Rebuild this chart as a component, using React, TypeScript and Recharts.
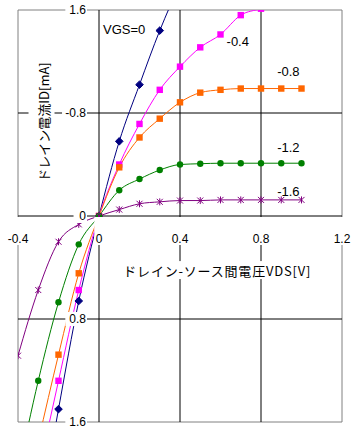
import React from "react";
import { LineChart, Line, XAxis, YAxis, ReferenceLine, ReferenceArea, ReferenceDot } from "recharts";

// ---- data ----
const vds = [-0.4, -0.3, -0.2, -0.1, 0, 0.1, 0.2, 0.3, 0.4, 0.5, 0.6, 0.7, 0.8, 0.9, 1.0];
const idVgs0 = [null, -2.4, -1.5, -0.66, 0, 0.58, 1.02, 1.44, 1.8, 2.1, null, null, null, null, null];
const idVgsM04 = [null, -2.0, -1.28, -0.575, 0, 0.4, 0.715, 0.98, 1.16, 1.31, 1.41, 1.56, 1.61, 1.66, 1.68];
const idVgsM08 = [null, -1.75, -1.077, -0.445, 0, 0.378, 0.61, 0.756, 0.883, 0.958, 0.98, 0.99, 0.99, 0.99, 0.99];
const idVgsM12 = [-2.0, -1.28, -0.67, -0.22, 0, 0.2, 0.287, 0.357, 0.4, 0.406, 0.41, 0.41, 0.41, 0.41, 0.41];
const idVgsM16 = [-1.085, -0.575, -0.2, -0.065, 0, 0.05, 0.095, 0.11, 0.12, 0.12, 0.125, 0.125, 0.125, 0.125, 0.125];

const xGrid = [0.4, 0.8];
const yGrid = [0.8, -0.8];
const xTicks = [-0.4, 0, 0.4, 0.8, 1.2];
const xTickLabels = ["-0.4", "0", "0.4", "0.8", "1.2"];
const yTicks = [1.6, 0.8, 0, -0.8, -1.6];
const yTickLabels = ["1.6", "-0.8", "0", "0.8", "1.6"];

const seriesNames = ["VGS=0", "-0.4", "-0.8", "-1.2", "-1.6"];
const seriesColors = ["#000080", "#FF00FF", "#FF6600", "#008000", "#800080"];
const annotX = [0.02, 0.63, 0.88, 0.88, 0.88];
const annotY = [1.45, 1.355, 1.12, 0.53, 0.19];

const xTitle = "ドレイン-ソース間電圧VDS[V]";
const yTitle = "ドレイン電流ID[mA]";

const data = vds.map((x, i) => ({
  x,
  s0: idVgs0[i],
  s1: idVgsM04[i],
  s2: idVgsM08[i],
  s3: idVgsM12[i],
  s4: idVgsM16[i],
}));

const NUM_FONT = "'Liberation Sans Narrow', 'Liberation Sans', Arial, sans-serif";
const ANN_FONT = "'Liberation Sans', Arial, sans-serif";
const JP_FONT = "'Noto Sans CJK JP', sans-serif";

const CW: Record<string, number> = { ".": 0.278, "-": 0.333, "=": 0.584 };
function numWidth(t: string, size: number, narrow: number) {
  let w = 0;
  for (const c of t) w += (CW[c] ?? 0.556) * size * narrow;
  return w;
}

// ---- marker shapes ----
const mk = (kind: string, color: string) => (props: any) => {
  const { cx, cy, index, value } = props;
  const key = `${kind}-${index}`;
  if (cx == null || cy == null || value == null) return <g key={key} />;
  if (kind === "diamond") {
    const s = 3.8;
    return <polygon key={key} points={`${cx},${cy - s} ${cx + s},${cy} ${cx},${cy + s} ${cx - s},${cy}`} fill={color} stroke={color} />;
  }
  if (kind === "square") {
    const s = 3.2;
    return <rect key={key} x={cx - s} y={cy - s} width={2 * s} height={2 * s} fill={color} stroke="none" />;
  }
  if (kind === "circle") {
    return <circle key={key} cx={cx} cy={cy} r={3.2} fill={color} stroke="none" />;
  }
  const s = 3;
  return (
    <g key={key} stroke={color} strokeWidth={1}>
      <line x1={cx - s} y1={cy - s} x2={cx + s} y2={cy + s} />
      <line x1={cx - s} y1={cy + s} x2={cx + s} y2={cy - s} />
      <line x1={cx} y1={cy - s - 0.5} x2={cx} y2={cy + s + 0.5} />
    </g>
  );
};

const markerKinds = ["diamond", "square", "square", "circle", "star"];
const keys = ["s0", "s1", "s2", "s3", "s4"];

// ---- label shapes ----
const yTickShape = (label: string) => (p: any) => {
  const { cx, cy } = p;
  const right = cx - 13;
  const w = numWidth(label, 12, 0.82);
  return (
    <g>
      <rect x={right - w - 7} y={cy - 7} width={w + 8} height={14} fill="#fff" />
      <text x={right} y={cy} textAnchor="end" dominantBaseline="central" fontFamily={NUM_FONT} fontSize={12} fill="#000">
        {label}
      </text>
    </g>
  );
};

const xTickShape = (label: string) => (p: any) => {
  const { cx, cy } = p;
  const w = numWidth(label, 12, 0.82);
  return (
    <g>
      <rect x={cx - w / 2 - 2} y={cy + 1} width={w + 4} height={28} fill="#fff" />
      <text x={cx} y={cy + 23} textAnchor="middle" dominantBaseline="central" fontFamily={NUM_FONT} fontSize={12} fill="#000">
        {label}
      </text>
    </g>
  );
};

const xTitleShape = (p: any) => {
  const { cx, cy } = p;
  return (
    <g>
      <rect x={cx - 2} y={cy - 9} width={198} height={18} fill="#fff" />
      <text x={cx} y={cy} textAnchor="start" dominantBaseline="central" fontFamily={JP_FONT} fontSize={13} letterSpacing={0.8} fill="#000">
        {xTitle}
      </text>
    </g>
  );
};

const yTitleShape = (p: any) => {
  const { cx, cy } = p;
  return (
    <g transform={`rotate(-90 ${cx} ${cy})`}>
      <rect x={cx - 60} y={cy - 15} width={120} height={26} fill="#fff" />
      <text x={cx} y={cy} textAnchor="middle" dominantBaseline="central" fontFamily={JP_FONT} fontSize={13} fill="#000">
        {yTitle}
      </text>
    </g>
  );
};

const annotShape = (label: string) => (p: any) => {
  const { cx, cy } = p;
  return (
    <text x={cx} y={cy} textAnchor="start" dominantBaseline="central" fontFamily={ANN_FONT} fontSize={13} fill="#000">
      {label}
    </text>
  );
};

export default function App() {
  return (
    <div style={{ position: "absolute", left: 0, top: 0, width: 353, height: 433, background: "#fff" }}>
      <LineChart width={353} height={433} data={data} margin={{ top: 10, right: 11, bottom: 11, left: 18 }}>
        <XAxis dataKey="x" type="number" domain={[-0.4, 1.2]} hide allowDataOverflow />
        <YAxis type="number" domain={[-1.6, 1.6]} hide allowDataOverflow />
        <ReferenceArea x1={-0.4} x2={1.2} y1={-1.6} y2={1.6} fill="none" fillOpacity={0} stroke="#808080" strokeWidth={1} ifOverflow="visible" />
        {xGrid.map((v) => (
          <ReferenceLine key={`xg${v}`} x={v} stroke="#000" strokeWidth={1} />
        ))}
        {yGrid.map((v) => (
          <ReferenceLine key={`yg${v}`} y={v} stroke="#000" strokeWidth={1} />
        ))}
        <ReferenceLine x={0} stroke="#000" strokeWidth={1} />
        <ReferenceLine y={0} stroke="#000" strokeWidth={1} />
        {keys.map((k, i) => (
          <Line
            key={k}
            dataKey={k}
            type="monotone"
            stroke={seriesColors[i]}
            strokeWidth={1}
            dot={mk(markerKinds[i], seriesColors[i])}
            activeDot={false}
            isAnimationActive={false}
          />
        ))}
        {yTicks.map((t, i) => (
          <ReferenceDot key={`yt${i}`} x={0} y={t} r={0} shape={yTickShape(yTickLabels[i])} ifOverflow="visible" />
        ))}
        {xTicks.map((t, i) => (
          <ReferenceDot key={`xt${i}`} x={t} y={0} r={0} shape={xTickShape(xTickLabels[i])} ifOverflow="visible" />
        ))}
        <ReferenceDot x={0.12} y={-0.42} r={0} shape={xTitleShape} ifOverflow="visible" />
        <ReferenceDot x={-0.274} y={0.73} r={0} shape={yTitleShape} ifOverflow="visible" />
        {seriesNames.map((n, i) => (
          <ReferenceDot key={`an${i}`} x={annotX[i]} y={annotY[i]} r={0} shape={annotShape(n)} ifOverflow="visible" />
        ))}
      </LineChart>
    </div>
  );
}
